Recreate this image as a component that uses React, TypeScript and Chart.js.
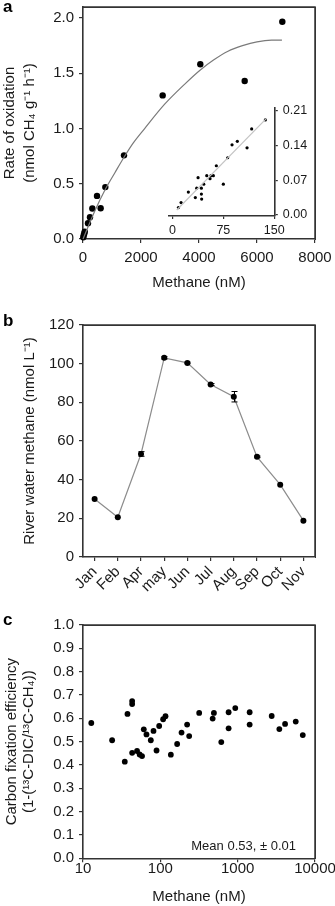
import React, { useEffect, useRef } from 'react';
import { Chart, registerables } from 'chart.js';
Chart.register(...registerables);

const FONT = '"Liberation Sans", Arial, Helvetica, sans-serif';
const AXIS = '#333333';
const TEXT = '#1a1a1a';

// ---- Panel a: oxidation rate vs methane ----
const rateMethane = [10, 25, 45, 60, 172, 241, 322, 483, 609, 770, 1414, 2747, 4045, 5575, 6873];
const rateValues = [0.015, 0.035, 0.05, 0.067, 0.143, 0.197, 0.276, 0.39, 0.279, 0.47, 0.757, 1.3, 1.582, 1.43, 1.966];
const fitMethane = [0, 400, 770, 1100, 1414, 1735, 2126, 2816, 3500, 4045, 4500, 5000, 5500, 6000, 6500, 6860];
const fitValues = [0, 0.25, 0.45, 0.6, 0.74, 0.87, 1.0, 1.22, 1.4, 1.53, 1.62, 1.7, 1.75, 1.785, 1.8, 1.8];
const aXTicks = [0, 2000, 4000, 6000, 8000];
const aYTicks = [0, 0.5, 1.0, 1.5, 2.0];

// inset
const insetX = [8.9, 12.8, 23.5, 33.8, 35.8, 37.8, 42.7, 43.1, 42.7, 46.2, 50.6, 55.4, 56.9, 60.3, 64.7, 75, 81.4, 87.8, 95.6, 109.9, 116.7, 136.8];
const insetY = [0.015, 0.025, 0.046, 0.035, 0.054, 0.075, 0.042, 0.032, 0.054, 0.062, 0.079, 0.073, 0.079, 0.079, 0.099, 0.062, 0.115, 0.141, 0.148, 0.135, 0.173, 0.191];
const insetLineX = [6.4, 137.8];
const insetLineY = [0.01, 0.193];
const insetXTicks = [0, 75, 150];
const insetYTicks = [0, 0.07, 0.14, 0.21];

// ---- Panel b: river water methane by month ----
const months = ['Jan', 'Feb', 'Apr', 'may', 'Jun', 'Jul', 'Aug', 'Sep', 'Oct', 'Nov'];
const riverValues = [30.0, 20.6, 53.3, 103.0, 100.4, 89.2, 82.9, 51.8, 37.4, 18.8];
const riverErr = [0, 0, 1.2, 0.6, 0.4, 0.5, 2.7, 0.4, 0, 0];
const bYTicks = [0, 20, 40, 60, 80, 100, 120];

// ---- Panel c: carbon fixation efficiency ----
const cMethane = [12.8, 23.8, 34.7, 37.6, 43.2, 43.2, 43.2, 50, 54, 58, 61.1, 66.2, 75.3, 81.6, 89.3, 96.6, 108.7, 116.6, 136.8, 165, 188, 222, 236, 318, 475, 493, 614, 764, 764, 931, 1429, 1429, 2754, 3459, 4102, 5636, 6950];
const cEfficiency = [0.58, 0.506, 0.414, 0.619, 0.674, 0.661, 0.452, 0.46, 0.445, 0.438, 0.553, 0.531, 0.506, 0.546, 0.462, 0.567, 0.596, 0.609, 0.444, 0.49, 0.539, 0.573, 0.524, 0.623, 0.599, 0.623, 0.498, 0.626, 0.557, 0.644, 0.626, 0.573, 0.61, 0.554, 0.576, 0.586, 0.528];
const cXTicks = [10, 100, 1000, 10000];
const cYTicks = [0, 0.1, 0.2, 0.3, 0.4, 0.5, 0.6, 0.7, 0.8, 0.9, 1.0];
const cNote = 'Mean 0.53, \u00b1 0.01';

// frame outline in unit coordinates of hidden frame axes (top-left -> top-right -> bottom-right)
const frameX = [0, 1, 1];
const frameY = [1, 1, 0];

const zip = (xs: number[], ys: number[]) => xs.map((x, i) => ({ x, y: ys[i] }));

const panelLabel = (label: string, lx: number, ly: number) => ({
  id: 'label' + label,
  afterDraw(chart: any) {
    const ctx = chart.ctx;
    ctx.save();
    ctx.fillStyle = '#000';
    ctx.font = `bold 17px ${FONT}`;
    ctx.textBaseline = 'alphabetic';
    ctx.textAlign = 'left';
    ctx.fillText(label, lx, ly);
    ctx.restore();
  },
});

const axisBase = (size: number, tickLen: number, pad: number) => ({
  grid: { display: true, drawOnChartArea: false, drawTicks: true, tickLength: tickLen, color: AXIS, lineWidth: 1.2 },
  border: { display: true, color: AXIS, width: 1.6 },
  ticks: { font: { family: FONT, size }, color: TEXT, padding: pad, autoSkip: false },
});

const hiddenUnit = { type: 'linear', display: false, min: 0, max: 1 };

const frameDataset = () =>
  ({
    type: 'line',
    data: zip(frameX, frameY),
    xAxisID: 'xf',
    yAxisID: 'yf',
    showLine: true,
    borderColor: AXIS,
    borderWidth: 1.5,
    pointRadius: 0,
    fill: false,
    tension: 0,
    clip: false,
  } as any);

const setTicks = (vals: number[]) => (s: any) => {
  s.ticks = vals.map((v) => ({ value: v }));
};

const fitW = (w: number) => (s: any) => {
  s.width = w;
  s.paddingTop = 0;
  s.paddingBottom = 0;
};
const fitH = (h: number) => (s: any) => {
  s.height = h;
  s.paddingLeft = 0;
  s.paddingRight = 0;
};

const frameBox = (left: number, top: number, w: number, h: number): React.CSSProperties => ({
  position: 'absolute',
  left,
  top,
  width: w,
  height: h,
  boxSizing: 'border-box',
  borderTop: `1.5px solid ${AXIS}`,
  borderRight: `1.5px solid ${AXIS}`,
  pointerEvents: 'none',
});

export default function App() {
  const aRef = useRef<HTMLCanvasElement>(null);
  const iRef = useRef<HTMLCanvasElement>(null);
  const bRef = useRef<HTMLCanvasElement>(null);
  const cRef = useRef<HTMLCanvasElement>(null);

  useEffect(() => {
    const common: any = {
      responsive: false,
      animation: false,
      devicePixelRatio: 1,
      events: [],
    };
    const plugins: any = { legend: { display: false }, tooltip: { enabled: false } };
    const charts: Chart[] = [];

    // Panel a
    charts.push(
      new Chart(aRef.current!, {
        type: 'scatter',
        data: {
          datasets: [
            frameDataset(),
            {
              data: zip(fitMethane, fitValues),
              showLine: true,
              pointRadius: 0,
              borderColor: '#7a7a7a',
              borderWidth: 1.2,
              cubicInterpolationMode: 'monotone',
              clip: false,
            } as any,
            {
              data: zip(rateMethane, rateValues),
              pointRadius: 3.2,
              backgroundColor: '#000',
              borderColor: '#000',
              borderWidth: 0,
              clip: false,
            } as any,
          ],
        },
        options: {
          ...common,
          layout: { padding: { left: 0, right: 20, top: 7, bottom: 0 } },
          plugins,
          scales: {
            x: {
              type: 'linear',
              min: 0,
              max: 8000,
              ...axisBase(15, 4, 6),
              afterBuildTicks: setTicks(aXTicks),
              afterFit: fitH(56),
              ticks: { ...axisBase(15, 4, 6).ticks, callback: (v: any) => String(v) },
              title: { display: true, text: 'Methane (nM)', color: TEXT, font: { family: FONT, size: 15 }, padding: { top: 0, bottom: 3 } },
            } as any,
            y: {
              type: 'linear',
              min: 0,
              max: 2.1,
              ...axisBase(15, 4, 5),
              afterBuildTicks: setTicks(aYTicks),
              afterFit: fitW(83),
              ticks: { ...axisBase(15, 4, 5).ticks, callback: (v: any) => Number(v).toFixed(1) },
              title: {
                display: true,
                text: ['Rate of oxidation', '(nmol CH\u2084 g\u207b\u00b9 h\u207b\u00b9)'],
                color: TEXT,
                font: { family: FONT, size: 15, lineHeight: '20px' },
                padding: { top: 0, bottom: 0 },
              },
            } as any,
            xf: hiddenUnit as any,
            yf: hiddenUnit as any,
          },
        },
        plugins: [panelLabel('a', 3, 12)],
      } as any)
    );

    // Inset
    charts.push(
      new Chart(iRef.current!, {
        type: 'scatter',
        data: {
          datasets: [
            {
              data: zip(insetLineX, insetLineY),
              showLine: true,
              pointRadius: 0,
              borderColor: '#c4c4c4',
              borderWidth: 1.2,
              clip: false,
            } as any,
            {
              data: zip(insetX, insetY),
              pointRadius: 1.6,
              backgroundColor: '#000',
              borderWidth: 0,
              clip: false,
            } as any,
          ],
        },
        options: {
          ...common,
          layout: { padding: { left: 38.3, right: 0, top: 13, bottom: 0 } },
          plugins,
          scales: {
            x: {
              type: 'linear',
              min: -6,
              max: 150,
              ...axisBase(12.5, 3, 4),
              afterBuildTicks: setTicks(insetXTicks),
              afterFit: fitH(29),
            } as any,
            y: {
              type: 'linear',
              position: 'right',
              min: -0.002,
              max: 0.215,
              ...axisBase(12.5, 3.5, 5),
              afterBuildTicks: setTicks(insetYTicks),
              afterFit: fitW(55.7),
              ticks: { ...axisBase(12.5, 3.5, 5).ticks, callback: (v: any) => Number(v).toFixed(2) },
            } as any,
          },
        },
      } as any)
    );

    // Panel b
    const errPlugin = {
      id: 'err',
      afterDatasetsDraw(chart: any) {
        const { ctx } = chart;
        const xs = chart.scales.x;
        const ys = chart.scales.y;
        ctx.save();
        ctx.strokeStyle = '#000';
        ctx.lineWidth = 1;
        riverValues.forEach((v, i) => {
          const e = riverErr[i];
          if (!e) return;
          const px = Math.round(xs.getPixelForValue(i)) + 0.5;
          const t = ys.getPixelForValue(v + e);
          const b = ys.getPixelForValue(v - e);
          ctx.beginPath();
          ctx.moveTo(px, t);
          ctx.lineTo(px, b);
          ctx.moveTo(px - 3, t);
          ctx.lineTo(px + 3, t);
          ctx.moveTo(px - 3, b);
          ctx.lineTo(px + 3, b);
          ctx.stroke();
        });
        ctx.restore();
      },
    };
    charts.push(
      new Chart(bRef.current!, {
        type: 'line',
        data: {
          labels: months,
          datasets: [
            frameDataset(),
            {
              data: riverValues,
              borderColor: '#8c8c8c',
              borderWidth: 1.2,
              pointRadius: 3,
              pointBackgroundColor: '#000',
              pointBorderWidth: 0,
              tension: 0,
              clip: false,
            } as any,
          ],
        },
        options: {
          ...common,
          layout: { padding: { left: 0, right: 20, top: 30, bottom: 0 } },
          plugins,
          scales: {
            x: {
              type: 'category',
              offset: true,
              ...axisBase(15, 4, 2),
              ticks: { ...axisBase(15, 4, 2).ticks, minRotation: 45, maxRotation: 45 },
              grid: { ...axisBase(15, 4, 2).grid, offset: false },
              afterFit: fitH(53),
            } as any,
            y: {
              type: 'linear',
              min: 0,
              max: 120,
              ...axisBase(15, 4, 5),
              afterBuildTicks: setTicks(bYTicks),
              afterFit: fitW(83),
              title: {
                display: true,
                text: 'River water methane (nmol L\u207b\u00b9)',
                color: TEXT,
                font: { family: FONT, size: 15 },
                padding: { top: 21, bottom: 0 },
              },
            } as any,
            xf: hiddenUnit as any,
            yf: hiddenUnit as any,
          },
        },
        plugins: [panelLabel('b', 3, 31), errPlugin],
      } as any)
    );

    // Panel c
    const notePlugin = {
      id: 'note',
      afterDraw(chart: any) {
        const { ctx, chartArea: a } = chart;
        ctx.save();
        ctx.fillStyle = TEXT;
        ctx.font = `13px ${FONT}`;
        ctx.textAlign = 'right';
        ctx.textBaseline = 'middle';
        ctx.fillText(cNote, a.right - 19, a.bottom - 11.5);
        ctx.restore();
      },
    };
    charts.push(
      new Chart(cRef.current!, {
        type: 'scatter',
        data: {
          datasets: [
            frameDataset(),
            {
              data: zip(cMethane, cEfficiency),
              pointRadius: 2.9,
              backgroundColor: '#000',
              borderWidth: 0,
              clip: false,
            } as any,
          ],
        },
        options: {
          ...common,
          layout: { padding: { left: 0, right: 20, top: 15, bottom: 0 } },
          plugins,
          scales: {
            x: {
              type: 'logarithmic',
              min: 10,
              max: 10000,
              ...axisBase(15, 4, -2),
              afterBuildTicks: setTicks(cXTicks),
              ticks: { ...axisBase(15, 4, -2).ticks, callback: (v: any) => String(v) },
              afterFit: fitH(47.7),
              title: { display: true, text: 'Methane (nM)', color: TEXT, font: { family: FONT, size: 15 }, padding: { top: 0, bottom: 0 } },
            } as any,
            y: {
              type: 'linear',
              min: 0,
              max: 1.0,
              ...axisBase(15, 4, 5),
              afterBuildTicks: setTicks(cYTicks),
              afterFit: fitW(83),
              ticks: { ...axisBase(15, 4, 5).ticks, callback: (v: any) => Number(v).toFixed(1) },
              title: {
                display: true,
                text: ['Carbon fixation efficiency', '(1-(\u00b9\u00b3C-DIC/\u00b9\u00b3C-CH\u2084))'],
                color: TEXT,
                font: { family: FONT, size: 15, lineHeight: '17px' },
                padding: { top: 3, bottom: 0 },
              },
            } as any,
            xf: hiddenUnit as any,
            yf: hiddenUnit as any,
          },
        },
        plugins: [panelLabel('c', 3, 15), notePlugin],
      } as any)
    );

    return () => charts.forEach((c) => c.destroy());
  }, []);

  return (
    <div style={{ position: 'absolute', left: 0, top: 0, width: 335, height: 906, background: '#fff', overflow: 'hidden' }}>
      <canvas ref={aRef} width={335} height={295} style={{ position: 'absolute', left: 0, top: 0 }} />
      <canvas ref={iRef} width={200} height={150} style={{ position: 'absolute', left: 130, top: 95 }} />
      <canvas ref={bRef} width={335} height={315} style={{ position: 'absolute', left: 0, top: 295 }} />
      <canvas ref={cRef} width={335} height={296} style={{ position: 'absolute', left: 0, top: 610 }} />
      <div style={frameBox(83, 6.5, 233, 233)} />
      <div style={frameBox(83, 324.5, 233, 233)} />
      <div style={frameBox(83, 624.5, 233, 234)} />
    </div>
  );
}
